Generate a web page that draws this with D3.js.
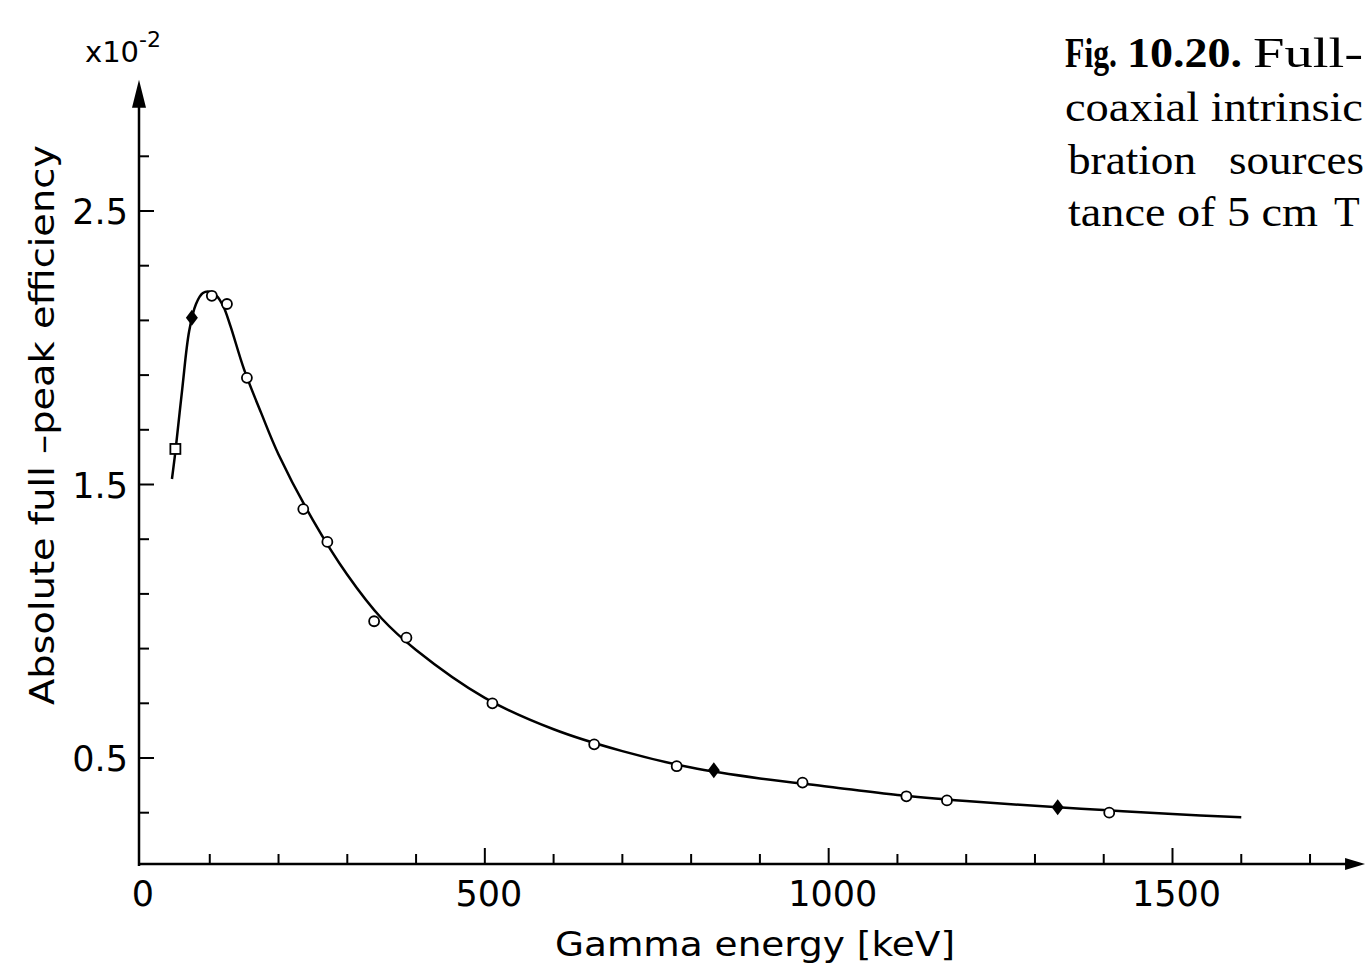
<!DOCTYPE html>
<html><head><meta charset="utf-8">
<script src="https://cdn.jsdelivr.net/npm/d3@7"></script>
<style>body{margin:0;background:#fff;} svg{display:block}</style>
</head><body>
<svg id="c" width="1368" height="965"></svg>
<script>
// ---- data (efficiency in units of 10^-2) ----
const curveEnergy = [45,50,60,70,80,90,100,110,120,130,150,175,200,250,300,350,400,500,600,700,800,900,1000,1100,1200,1300,1400,1500,1600];
const curveEff    = [1.52,1.62,1.85,2.06,2.16,2.20,2.205,2.19,2.15,2.08,1.92,1.76,1.61,1.37,1.17,1.01,0.895,0.72,0.605,0.525,0.465,0.425,0.395,0.365,0.343,0.325,0.31,0.295,0.283];
const pointEnergy = [50,74,103,125,154,236,271,339,386,511,659,779,833,962,1113,1172,1333,1408];
const pointEff    = [1.63,2.11,2.19,2.16,1.89,1.41,1.29,1.00,0.94,0.70,0.55,0.47,0.455,0.41,0.36,0.345,0.32,0.30];
const pointMarker = ["square","diamond","circle","circle","circle","circle","circle","circle","circle","circle","circle","circle","diamond","circle","circle","circle","diamond","circle"];
const xMajorTicks = [0,500,1000,1500];
const xTickLabels = ["0","500","1000","1500"];
const xMinorTicks = [100,200,300,400,600,700,800,900,1100,1200,1300,1400,1600,1700];
const yMajorTicks = [2.5,1.5,0.5];
const yTickLabels = ["2.5","1.5","0.5"];
const yMinorTicks = [0.3,0.7,0.9,1.1,1.3,1.7,1.9,2.1,2.3,2.7];
const xTitle = "Gamma energy [keV]";
const yTitle = "Absolute full \u2013peak efficiency";
const captionPieces = [
  ["Fig.",true],["10.20.",true],["Full-",false],
  ["coaxial intrinsic",false],
  ["bration",false],["sources",false],
  ["tance of 5 cm",false],["T",false]
];

// ---- layout ----
const svg = d3.select("#c");
const x = d3.scaleLinear().domain([0,1500]).range([141,1172.5]);
const y = d3.scaleLinear().domain([0.5,2.5]).range([758,211]);
const axisY = 864, axisX = 139;
const xEnd = x(1780), yTop = y(2.98);
const sans = "DejaVu Sans";

// axes lines
svg.append("line").attr("x1",axisX-1).attr("x2",xEnd-12).attr("y1",axisY).attr("y2",axisY)
  .attr("stroke","#000").attr("stroke-width",2.5);
svg.append("path").attr("d",`M${xEnd},${axisY} L${xEnd-20},${axisY-6} L${xEnd-20},${axisY+6} Z`).attr("fill","#000");
svg.append("line").attr("x1",axisX).attr("x2",axisX).attr("y1",axisY+2).attr("y2",yTop+20)
  .attr("stroke","#000").attr("stroke-width",2.5);
svg.append("path").attr("d",`M${axisX},${yTop} L${axisX-7},${yTop+28} L${axisX+7},${yTop+28} Z`).attr("fill","#000");

// x ticks
svg.selectAll(".xmaj").data(xMajorTicks.filter(d=>d>0)).enter().append("line")
  .attr("x1",d=>x(d)).attr("x2",d=>x(d)).attr("y1",axisY).attr("y2",axisY-16)
  .attr("stroke","#000").attr("stroke-width",2);
svg.selectAll(".xmin").data(xMinorTicks).enter().append("line")
  .attr("x1",d=>x(d)).attr("x2",d=>x(d)).attr("y1",axisY).attr("y2",axisY-10)
  .attr("stroke","#000").attr("stroke-width",2);
svg.selectAll(".xlab").data(xMajorTicks).enter().append("text")
  .attr("x",d=>x(d)+ (d===0?2:4)).attr("y",axisY+42).attr("text-anchor","middle")
  .attr("font-family",sans).attr("font-size",35)
  .text((d,i)=>xTickLabels[i]);

// y ticks
svg.selectAll(".ymaj").data(yMajorTicks).enter().append("line")
  .attr("x1",axisX).attr("x2",axisX+15).attr("y1",d=>y(d)).attr("y2",d=>y(d))
  .attr("stroke","#000").attr("stroke-width",2);
svg.selectAll(".ymin").data(yMinorTicks).enter().append("line")
  .attr("x1",axisX).attr("x2",axisX+10).attr("y1",d=>y(d)).attr("y2",d=>y(d))
  .attr("stroke","#000").attr("stroke-width",2);
svg.selectAll(".ylab").data(yMajorTicks).enter().append("text")
  .attr("x",128).attr("y",d=>y(d)+13).attr("text-anchor","end")
  .attr("font-family",sans).attr("font-size",35)
  .text((d,i)=>yTickLabels[i]);

// multiplier
const mult = svg.append("text").attr("x",85).attr("y",62).attr("font-family",sans).attr("font-size",29);
mult.append("tspan").text("x10");
mult.append("tspan").attr("dy",-15).attr("font-size",22).text("-2");

// titles
svg.append("text").attr("x",755).attr("y",956).attr("text-anchor","middle")
  .attr("font-family",sans).attr("font-size",34)
  .attr("textLength",400).attr("lengthAdjust","spacingAndGlyphs").text(xTitle);
svg.append("text").attr("transform","translate(54,425) rotate(-90)").attr("text-anchor","middle")
  .attr("font-family",sans).attr("font-size",33)
  .attr("textLength",560).attr("lengthAdjust","spacingAndGlyphs").text(yTitle);

// curve
const line = d3.line().x(d=>x(d[0])).y(d=>y(d[1])).curve(d3.curveCatmullRom.alpha(0.5));
svg.append("path").datum(curveEnergy.map((e,i)=>[e,curveEff[i]]))
  .attr("d",line).attr("fill","none").attr("stroke","#000").attr("stroke-width",2.5);

// points
const pts = pointEnergy.map((e,i)=>({e, v:pointEff[i], m:pointMarker[i]}));
const g = svg.append("g");
pts.forEach(p=>{
  const cx = x(p.e), cy = y(p.v);
  if (p.m==="circle") {
    g.append("circle").attr("cx",cx).attr("cy",cy).attr("r",5).attr("fill","#fff").attr("stroke","#000").attr("stroke-width",1.8);
  } else if (p.m==="square") {
    g.append("rect").attr("x",cx-5).attr("y",cy-5).attr("width",10).attr("height",10).attr("fill","#fff").attr("stroke","#000").attr("stroke-width",1.8);
  } else {
    g.append("path").attr("d",`M${cx},${cy-8} L${cx+6},${cy} L${cx},${cy+8} L${cx-6},${cy} Z`).attr("fill","#000");
  }
});

// caption (right-hand text column, as in the source page)
const capPos = [[1065,67,52],[1127,67,115],[1253,67,110],
                [1065,121,298],
                [1068,174,128],[1229,174,135],
                [1068,226,250],[1334,226,0]];
captionPieces.forEach((w,i)=>{
  const t = svg.append("text").attr("x",capPos[i][0]).attr("y",capPos[i][1])
    .attr("font-family","Liberation Serif").attr("font-size",42)
    .attr("font-weight",w[1]?"bold":"normal").text(w[0]);
  if (capPos[i][2] > 0) t.attr("textLength",capPos[i][2]).attr("lengthAdjust","spacingAndGlyphs");
});
</script>
</body></html>
